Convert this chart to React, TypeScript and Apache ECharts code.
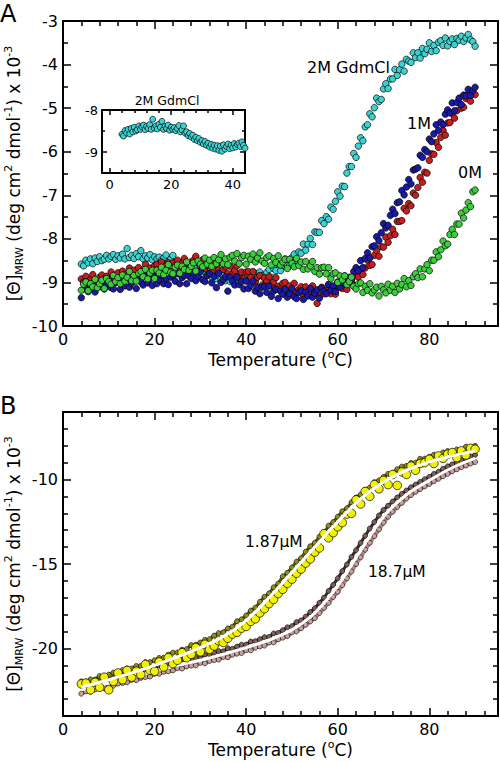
import React, { useEffect, useRef } from "react";
import * as echarts from "echarts";

// ---------- Panel A data (temperature, °C) ----------
const tempsA = [4,4.5,5,5.5,6,6.5,7,7.5,8,8.5,9,9.5,10,10.5,11,11.5,12,12.5,13,13.5,14,14.5,15,15.5,16,16.5,17,17.5,18,18.5,19,19.5,20,20.5,21,21.5,22,22.5,23,23.5,24,24.5,25,25.5,26,26.5,27,27.5,28,28.5,29,29.5,30,30.5,31,31.5,32,32.5,33,33.5,34,34.5,35,35.5,36,36.5,37,37.5,38,38.5,39,39.5,40,40.5,41,41.5,42,42.5,43,43.5,44,44.5,45,45.5,46,46.5,47,47.5,48,48.5,49,49.5,50,50.5,51,51.5,52,52.5,53,53.5,54,54.5,55,55.5,56,56.5,57,57.5,58,58.5,59,59.5,60,60.5,61,61.5,62,62.5,63,63.5,64,64.5,65,65.5,66,66.5,67,67.5,68,68.5,69,69.5,70,70.5,71,71.5,72,72.5,73,73.5,74,74.5,75,75.5,76,76.5,77,77.5,78,78.5,79,79.5,80,80.5,81,81.5,82,82.5,83,83.5,84,84.5,85,85.5,86,86.5,87,87.5,88,88.5,89,89.5,90];

// 2M GdmCl (cyan)
const cyan2M = [
-8.58,-8.62,-8.49,-8.55,-8.46,-8.57,-8.44,-8.52,-8.41,-8.50,
-8.47,-8.38,-8.46,-8.40,-8.36,-8.47,-8.39,-8.44,-8.35,-8.46,
-8.22,-8.43,-8.38,-8.45,-8.34,-8.41,-8.27,-8.46,-8.39,-8.44,
-8.36,-8.48,-8.41,-8.46,-8.42,-8.49,-8.44,-8.37,-8.52,-8.47,
-8.38,-8.55,-8.52,-8.61,-8.56,-8.64,-8.60,-8.70,-8.65,-8.73,
-8.68,-8.77,-8.73,-8.81,-8.75,-8.84,-8.79,-8.88,-8.82,-8.91,
-8.84,-8.93,-8.85,-8.96,-8.86,-8.98,-8.83,-8.93,-8.87,-8.81,
-8.92,-8.84,-8.90,-8.80,-8.88,-8.82,-8.79,-8.87,-8.76,-8.84,
-8.91,-8.77,-8.70,-8.88,-8.68,-8.73,-8.58,-8.73,-8.61,-8.46,
-8.61,-8.61,-8.43,-8.35,-8.50,-8.30,-8.33,-8.12,-8.26,-8.12,
-7.99,-8.13,-7.84,-7.85,-7.85,-7.58,-7.65,-7.49,-7.55,-7.27,
-7.32,-7.14,-6.92,-7.02,-6.79,-6.80,-6.49,-6.34,-6.34,-6.04,
-6.13,-5.87,-5.68,-5.75,-5.43,-5.38,-5.13,-5.20,-4.99,-4.77,
-4.85,-4.80,-4.56,-4.44,-4.55,-4.33,-4.33,-4.11,-4.25,-4.12,
-3.99,-4.15,-3.88,-3.92,-3.95,-3.73,-3.84,-3.73,-3.85,-3.63,
-3.75,-3.65,-3.50,-3.70,-3.56,-3.68,-3.49,-3.45,-3.56,-3.39,
-3.57,-3.47,-3.41,-3.54,-3.40,-3.44,-3.35,-3.47,-3.39,-3.31,
-3.43,-3.47,-3.58];

// 1M (blue)
const blue1M = [
-9.35,-9.15,-8.98,-9.21,-9.08,-9.03,-9.22,-9.04,-9.10,-8.98,
-9.15,-9.06,-8.93,-9.12,-9.15,-9.01,-8.96,-9.16,-9.00,-9.08,
-8.91,-9.11,-9.02,-8.95,-9.14,-8.92,-8.99,-9.06,-8.86,-9.01,
-8.92,-9.07,-8.88,-9.03,-8.94,-8.84,-9.03,-8.92,-9.05,-8.88,
-8.84,-8.97,-8.80,-9.03,-8.89,-8.84,-9.03,-8.85,-8.91,-8.79,
-8.96,-8.87,-8.75,-8.94,-8.98,-8.84,-8.80,-9.01,-8.86,-9.12,
-8.79,-9.00,-8.93,-8.87,-9.20,-8.88,-8.97,-9.06,-8.88,-9.05,
-8.98,-9.15,-8.97,-9.14,-9.07,-8.97,-9.20,-9.11,-9.26,-9.11,
-9.09,-9.23,-9.08,-9.32,-9.20,-9.16,-9.37,-9.20,-9.27,-9.16,
-9.34,-9.26,-9.14,-9.33,-9.37,-9.23,-9.19,-9.39,-9.23,-9.31,
-9.14,-9.34,-9.25,-9.17,-9.36,-9.13,-9.20,-9.26,-9.05,-9.18,
-9.08,-9.21,-8.99,-9.11,-9.00,-8.85,-9.03,-8.88,-8.97,-8.75,
-8.66,-8.73,-8.50,-8.66,-8.45,-8.32,-8.44,-8.18,-8.16,-7.95,
-8.04,-7.86,-7.65,-7.75,-7.69,-7.46,-7.32,-7.42,-7.17,-7.15,
-6.89,-6.99,-6.81,-6.64,-6.74,-6.42,-6.40,-6.37,-6.08,-6.13,
-5.95,-6.00,-5.71,-5.77,-5.59,-5.38,-5.51,-5.32,-5.38,-5.14,
-5.04,-5.11,-4.88,-5.06,-4.87,-4.77,-4.92,-4.70,-4.72,-4.57,
-4.71,-4.60,-4.52];

// 1M (red)
const red1M = [
-8.92,-8.99,-8.86,-9.04,-8.94,-8.82,-9.00,-9.03,-8.88,-8.83,
-9.02,-8.86,-8.93,-8.76,-8.95,-8.86,-8.78,-8.97,-8.74,-8.81,
-8.87,-8.67,-8.81,-8.72,-8.86,-8.66,-8.80,-8.71,-8.58,-8.79,
-8.67,-8.80,-8.62,-8.58,-8.70,-8.53,-8.75,-8.61,-8.55,-8.74,
-8.55,-8.62,-8.49,-8.67,-8.57,-8.45,-8.63,-8.67,-8.53,-8.49,
-8.40,-8.55,-8.63,-8.48,-8.68,-8.61,-8.54,-8.75,-8.54,-8.63,
-8.71,-8.54,-8.70,-8.64,-8.80,-8.63,-8.79,-8.73,-8.62,-8.86,
-8.76,-8.92,-8.76,-8.75,-8.89,-8.75,-8.99,-8.88,-8.84,-9.06,
-8.89,-8.98,-8.87,-9.07,-8.99,-8.89,-9.09,-9.15,-9.02,-9.00,
-9.21,-9.08,-9.17,-9.02,-9.23,-9.16,-9.10,-9.31,-9.10,-9.19,
-9.26,-9.08,-9.23,-9.48,-9.30,-9.11,-9.26,-9.18,-9.05,-9.26,
-9.14,-9.27,-9.08,-9.03,-9.14,-8.96,-9.16,-9.00,-8.91,-9.07,
-8.85,-8.87,-8.70,-8.82,-8.67,-8.49,-8.61,-8.59,-8.38,-8.27,
-8.40,-8.18,-8.19,-7.96,-8.08,-7.93,-7.78,-7.90,-7.60,-7.60,
-7.58,-7.30,-7.36,-7.19,-7.24,-6.95,-7.00,-6.82,-6.59,-6.70,
-6.47,-6.49,-6.20,-6.05,-6.06,-5.79,-5.90,-5.67,-5.51,-5.62,
-5.34,-5.33,-5.12,-5.23,-5.06,-4.88,-5.00,-4.98,-4.78,-4.69,
-4.84,-4.65,-4.69];

// 0M (green)
const green0M = [
-9.18,-9.04,-8.99,-9.19,-9.03,-9.10,-8.93,-9.12,-9.03,-8.95,
-9.14,-8.91,-8.98,-9.04,-8.84,-8.98,-8.89,-9.03,-8.83,-8.97,
-8.88,-8.75,-8.96,-8.84,-8.97,-8.79,-8.75,-8.87,-8.70,-8.92,
-8.78,-8.72,-8.91,-8.72,-8.78,-8.65,-8.82,-8.72,-8.59,-8.77,
-8.80,-8.65,-8.60,-8.79,-8.63,-8.70,-8.53,-8.72,-8.63,-8.55,
-8.74,-8.51,-8.58,-8.64,-8.44,-8.58,-8.49,-8.63,-8.43,-8.57,
-8.48,-8.36,-8.57,-8.46,-8.59,-8.42,-8.38,-8.51,-8.34,-8.57,
-8.43,-8.38,-8.58,-8.40,-8.47,-8.35,-8.53,-8.44,-8.32,-8.51,
-8.56,-8.43,-8.39,-8.60,-8.45,-8.54,-8.39,-8.60,-8.53,-8.47,
-8.68,-8.47,-8.56,-8.64,-8.45,-8.61,-8.53,-8.70,-8.52,-8.69,
-8.62,-8.52,-8.75,-8.66,-8.81,-8.66,-8.65,-8.80,-8.66,-8.91,
-8.80,-8.78,-9.00,-8.85,-8.94,-8.85,-9.05,-8.98,-8.88,-9.09,
-9.15,-9.03,-9.01,-9.23,-9.09,-9.18,-9.03,-9.24,-9.17,-9.11,
-9.31,-9.09,-9.17,-9.24,-9.04,-9.18,-9.09,-9.23,-9.02,-9.15,
-9.05,-8.91,-9.10,-8.96,-9.07,-8.87,-8.80,-8.89,-8.69,-8.87,
-8.69,-8.59,-8.73,-8.49,-8.49,-8.30,-8.41,-8.25,-8.05,-8.16,
-8.12,-7.90,-7.78,-7.90,-7.66,-7.66,-7.41,-7.52,-7.34,-7.17,
-7.26,-6.92,-6.88];

// ---------- Panel B data ----------
const tempsB = [4,5,6,7,8,9,10,11,12,13,14,15,16,17,18,19,20,21,22,23,24,25,26,27,28,29,30,31,32,33,34,35,36,37,38,39,40,41,42,43,44,45,46,47,48,49,50,51,52,53,54,55,56,57,58,59,60,61,62,63,64,65,66,67,68,69,70,71,72,73,74,75,76,77,78,79,80,81,82,83,84,85,86,87,88,89,90];

// 1.87 µM, dense (dark) scan
const dark187 = [
-21.95,-21.96,-21.83,-21.84,-21.63,-21.65,-21.55,-21.43,-21.44,-21.28,
-21.18,-21.19,-21.04,-21.03,-20.81,-20.81,-20.70,-20.56,-20.55,-20.37,
-20.25,-20.24,-20.07,-20.04,-19.80,-19.78,-19.65,-19.49,-19.45,-19.24,
-19.09,-19.04,-18.81,-18.71,-18.39,-18.28,-18.05,-17.76,-17.59,-17.24,
-16.94,-16.74,-16.38,-16.16,-15.73,-15.52,-15.20,-14.86,-14.65,-14.27,
-13.95,-13.74,-13.38,-13.16,-12.73,-12.52,-12.20,-11.88,-11.70,-11.35,
-11.06,-10.89,-10.61,-10.48,-10.15,-10.05,-9.85,-9.66,-9.61,-9.39,
-9.23,-9.19,-9.02,-9.00,-8.77,-8.76,-8.65,-8.53,-8.55,-8.40,
-8.31,-8.34,-8.22,-8.24,-8.05,-8.08,-8.00];

// 1.87 µM, yellow circles
const yellow187 = [
-22.10,-22.05,-22.45,-22.00,-22.30,-21.70,-22.45,-21.95,-21.45,-21.85,
-21.30,-21.70,-21.35,-21.55,-20.95,-21.30,-21.35,-20.80,-21.10,-20.55,
-20.90,-20.70,-20.25,-20.55,-20.35,-19.95,-20.20,-19.75,-20.05,-19.85,
-19.55,-19.65,-19.40,-19.15,-19.05,-18.80,-18.70,-18.40,-18.25,-17.90,
-17.65,-17.35,-17.10,-16.75,-16.50,-16.15,-15.90,-15.55,-15.30,-14.95,
-14.70,-14.30,-14.05,-13.20,-13.45,-13.15,-12.80,-12.55,-12.05,-12.00,
-11.20,-11.45,-10.70,-11.00,-10.30,-10.55,-10.05,-10.30,-9.70,-10.35,
-9.55,-9.70,-9.20,-9.45,-9.05,-9.00,-8.80,-9.05,-8.60,-8.75,
-8.50,-8.40,-8.70,-8.30,-8.55,-8.15,-8.20];

// 18.7 µM, dark scan
const dark187b = [
-22.19,-22.19,-22.03,-22.08,-21.96,-21.87,-21.87,-21.71,-21.71,-21.61,
-21.51,-21.51,-21.35,-21.39,-21.27,-21.17,-21.17,-21.01,-21.01,-20.91,
-20.81,-20.81,-20.66,-20.71,-20.60,-20.51,-20.52,-20.36,-20.36,-20.26,
-20.16,-20.17,-19.99,-20.02,-19.89,-19.78,-19.77,-19.59,-19.57,-19.45,
-19.33,-19.32,-19.11,-19.08,-18.92,-18.75,-18.68,-18.44,-18.34,-18.12,
-17.85,-17.62,-17.30,-17.00,-16.60,-16.24,-15.85,-15.42,-15.03,-14.58,
-14.18,-13.75,-13.33,-12.90,-12.52,-12.13,-11.80,-11.55,-11.30,-11.06,
-10.85,-10.65,-10.46,-10.30,-10.14,-9.98,-9.84,-9.67,-9.54,-9.36,
-9.22,-9.10,-8.97,-8.84,-8.75,-8.63,-8.54];

// 18.7 µM, pink scan
const pink187b = [
-22.68,-22.54,-22.56,-22.43,-22.38,-22.36,-22.20,-22.20,-22.08,-22.05,
-22.00,-21.86,-21.88,-21.74,-21.69,-21.66,-21.50,-21.50,-21.38,-21.35,
-21.30,-21.16,-21.19,-21.06,-21.02,-21.00,-20.85,-20.88,-20.74,-20.69,
-20.66,-20.50,-20.52,-20.37,-20.31,-20.27,-20.10,-20.11,-19.95,-19.88,
-19.83,-19.65,-19.64,-19.46,-19.36,-19.27,-19.05,-18.99,-18.80,-18.60,
-18.40,-18.20,-17.90,-17.60,-17.30,-16.95,-16.65,-16.25,-15.85,-15.45,
-15.00,-14.60,-14.15,-13.75,-13.35,-12.95,-12.55,-12.20,-11.90,-11.62,
-11.38,-11.12,-10.92,-10.72,-10.56,-10.40,-10.26,-10.09,-9.95,-9.80,
-9.66,-9.51,-9.39,-9.26,-9.17,-9.05,-8.96];

// fitted curves
const fitT = [4,10,15,20,25,30,35,40,45,50,55,60,65,70,75,80,85,90];
const fit187 = [-22.3,-21.85,-21.45,-21.0,-20.5,-19.95,-19.3,-18.35,-17.0,-15.5,-14.0,-12.5,-11.15,-10.15,-9.45,-8.95,-8.6,-8.3];
const fit187b = [-22.45,-22.05,-21.7,-21.35,-21.0,-20.7,-20.35,-19.95,-19.5,-18.9,-17.9,-16.3,-14.2,-12.2,-10.9,-10.05,-9.3,-8.75];

// ---------- ticks ----------
const xMajor = [0, 20, 40, 60, 80];
const xMinor = [4,8,12,16,24,28,32,36,44,48,52,56,64,68,72,76,84,88,92];
const aYMajor = [-10,-9,-8,-7,-6,-5,-4,-3];
const aYMinor = [-9.5,-8.5,-7.5,-6.5,-5.5,-4.5,-3.5];
const insetXMajor = [0, 20, 40];
const insetXMinor = [4,8,12,16,24,28,32,36];
const insetYMajor = [-9, -8];
const insetYMinor = [-8.5];
const bYMajor = [-20, -15, -10];
const bYMinor = [-23,-22,-21,-19,-18,-17,-16,-14,-13,-12,-11,-9,-8,-7];

const FONT = "'DejaVu Sans', sans-serif";

function ax(grid: number, pos: string, min: number, max: number, ticks: number[], len: number, opts: any = {}) {
  return {
    type: "value",
    gridIndex: grid,
    position: pos,
    min,
    max,
    axisLine: { show: !!opts.line, onZero: false, lineStyle: { color: "#000", width: opts.lw ?? 2 } },
    axisTick: { show: true, inside: true, length: len, customValues: ticks, lineStyle: { color: "#000", width: opts.tw ?? 1.5 } },
    axisLabel: opts.labels
      ? { show: true, customValues: opts.labels, color: "#000", fontSize: opts.fs ?? 16, fontFamily: FONT, margin: opts.margin ?? 5 }
      : { show: false },
    splitLine: { show: false },
    minorTick: { show: false },
  };
}

function sc(xs: number[], ys: number[], xi: number, yi: number, color: string, size: number, bw = 0.7, filter?: (t: number) => boolean, z = 2) {
  let data = xs.map((t, i) => [t, ys[i]]);
  if (filter) data = data.filter((p) => filter(p[0]));
  return {
    type: "scatter",
    xAxisIndex: xi,
    yAxisIndex: yi,
    data,
    symbol: "circle",
    symbolSize: size,
    itemStyle: { color, borderColor: "#000", borderWidth: bw, opacity: 1 },
    silent: true,
    z,
  };
}

// dense scan drawn as a ribbon of small overlapping circles
function ribbon(xs: number[], ys: number[], color: string, lineColor: string, lw: number, z: number) {
  return {
    type: "line",
    xAxisIndex: 8,
    yAxisIndex: 8,
    data: xs.map((t, i) => [t, ys[i]]),
    symbol: "circle",
    symbolSize: 5,
    showSymbol: true,
    showAllSymbol: true,
    lineStyle: { color: lineColor, width: lw },
    itemStyle: { color, borderColor: "#000", borderWidth: 0.6 },
    silent: true,
    z,
  };
}

function fitLine(xs: number[], ys: number[], z: number) {
  return {
    type: "line",
    xAxisIndex: 8,
    yAxisIndex: 8,
    data: xs.map((t, i) => [t, ys[i]]),
    smooth: 0.35,
    showSymbol: false,
    symbol: "none",
    lineStyle: { color: "#ffffff", width: 3 },
    silent: true,
    z,
  };
}

const richSub = {
  sub: { fontSize: 11, fontFamily: FONT, fill: "#000", color: "#000", verticalAlign: "bottom", lineHeight: 11 },
  sup: { fontSize: 11, fontFamily: FONT, fill: "#000", color: "#000", verticalAlign: "top", lineHeight: 11 },
};

function txt(x: number, y: number, text: string, fontSize: number, align = "left", extra: any = {}) {
  return {
    type: "text",
    x,
    y,
    silent: true,
    ...extra,
    style: {
      text,
      fontSize,
      fontFamily: FONT,
      fill: "#000",
      align,
      verticalAlign: "middle",
      textAlign: align,
      textVerticalAlign: "middle",
      lineHeight: 22,
      rich: richSub,
    },
  };
}

const yTitle = "[Θ]{sub|MRW} (deg cm{sup|2} dmol{sup|-1}) x 10{sup|-3}";
const xTitle = "Temperature ({sup|o}C)";

export default function App() {
  const ref = useRef<HTMLDivElement>(null);
  useEffect(() => {
    const chart = echarts.init(ref.current!, null, { renderer: "svg" });
    const option: any = {
      animation: false,
      backgroundColor: "#fff",
      grid: [
        { left: 63, top: 21, width: 435, height: 305 },
        { left: 102, top: 110, width: 143, height: 63, show: true, backgroundColor: "#fff", borderWidth: 0 },
        { left: 63, top: 412, width: 435, height: 304 },
      ],
      xAxis: [
        ax(0, "bottom", 0, 95, xMajor, 8, { line: true, labels: xMajor }),
        ax(0, "bottom", 0, 95, xMinor, 5),
        ax(0, "top", 0, 95, xMajor, 8, { line: true }),
        ax(0, "top", 0, 95, xMinor, 5),
        ax(1, "bottom", -2.5, 44, insetXMajor, 5, { line: true, labels: insetXMajor, fs: 13, margin: 5 }),
        ax(1, "bottom", -2.5, 44, insetXMinor, 3),
        ax(1, "top", -2.5, 44, insetXMajor, 5, { line: true }),
        ax(1, "top", -2.5, 44, insetXMinor, 3),
        ax(2, "bottom", 0, 95, xMajor, 8, { line: true, labels: xMajor }),
        ax(2, "bottom", 0, 95, xMinor, 5),
        ax(2, "top", 0, 95, xMajor, 8, { line: true }),
        ax(2, "top", 0, 95, xMinor, 5),
      ],
      yAxis: [
        ax(0, "left", -10, -3, aYMajor, 8, { line: true, labels: aYMajor }),
        ax(0, "left", -10, -3, aYMinor, 5),
        ax(0, "right", -10, -3, aYMajor, 8, { line: true }),
        ax(0, "right", -10, -3, aYMinor, 5),
        ax(1, "left", -9.5, -8, insetYMajor, 5, { line: true, labels: insetYMajor, fs: 13, margin: 4 }),
        ax(1, "left", -9.5, -8, insetYMinor, 3),
        ax(1, "right", -9.5, -8, insetYMajor, 5, { line: true }),
        ax(1, "right", -9.5, -8, insetYMinor, 3),
        ax(2, "left", -24, -6, bYMajor, 8, { line: true, labels: bYMajor }),
        ax(2, "left", -24, -6, bYMinor, 5),
        ax(2, "right", -24, -6, bYMajor, 8, { line: true }),
        ax(2, "right", -24, -6, bYMinor, 5),
      ],
      series: [
        sc(tempsA, cyan2M, 0, 0, "#3cd2d2", 6.5),
        sc(tempsA, red1M, 0, 0, "#c41e1e", 6.5),
        sc(tempsA, blue1M, 0, 0, "#1a1aa6", 6.5),
        sc(tempsA, green0M, 0, 0, "#3ccc3c", 6.5),
        sc(tempsA, cyan2M, 4, 4, "#3cd2d2", 6, 0.7, (t) => t <= 44.5),
        ribbon(tempsB, pink187b, "#c9a19c", "#a88682", 4, 2),
        ribbon(tempsB, dark187b, "#7a5e5a", "#3a2a28", 3, 3),
        fitLine(fitT, fit187b, 4),
        ribbon(tempsB, dark187, "#8f8c1c", "#55530e", 3, 5),
        sc(tempsB, yellow187, 8, 8, "#f2f200", 8.5, 0.7, undefined, 6),
        fitLine(fitT, fit187, 7),
      ],
      graphic: [
        txt(0, 14, "A", 24),
        txt(0, 406, "B", 24),
        txt(280.5, 360, xTitle, 17, "center"),
        txt(280.5, 750, xTitle, 17, "center"),
        txt(14, 173.5, yTitle, 17, "center", { rotation: Math.PI / 2 }),
        txt(14, 564, yTitle, 17, "center", { rotation: Math.PI / 2 }),
        txt(307, 67.5, "2M GdmCl", 16),
        txt(407, 123, "1M", 16),
        txt(458, 172, "0M", 16),
        txt(167, 100, "2M GdmCl", 12.5, "center"),
        txt(245, 542, "1.87µM", 15.5),
        txt(368, 572, "18.7µM", 15.5),
      ],
    };
    chart.setOption(option);
    return () => chart.dispose();
  }, []);
  return <div ref={ref} style={{ position: "absolute", left: 0, top: 0, width: 500, height: 762 }} />;
}
